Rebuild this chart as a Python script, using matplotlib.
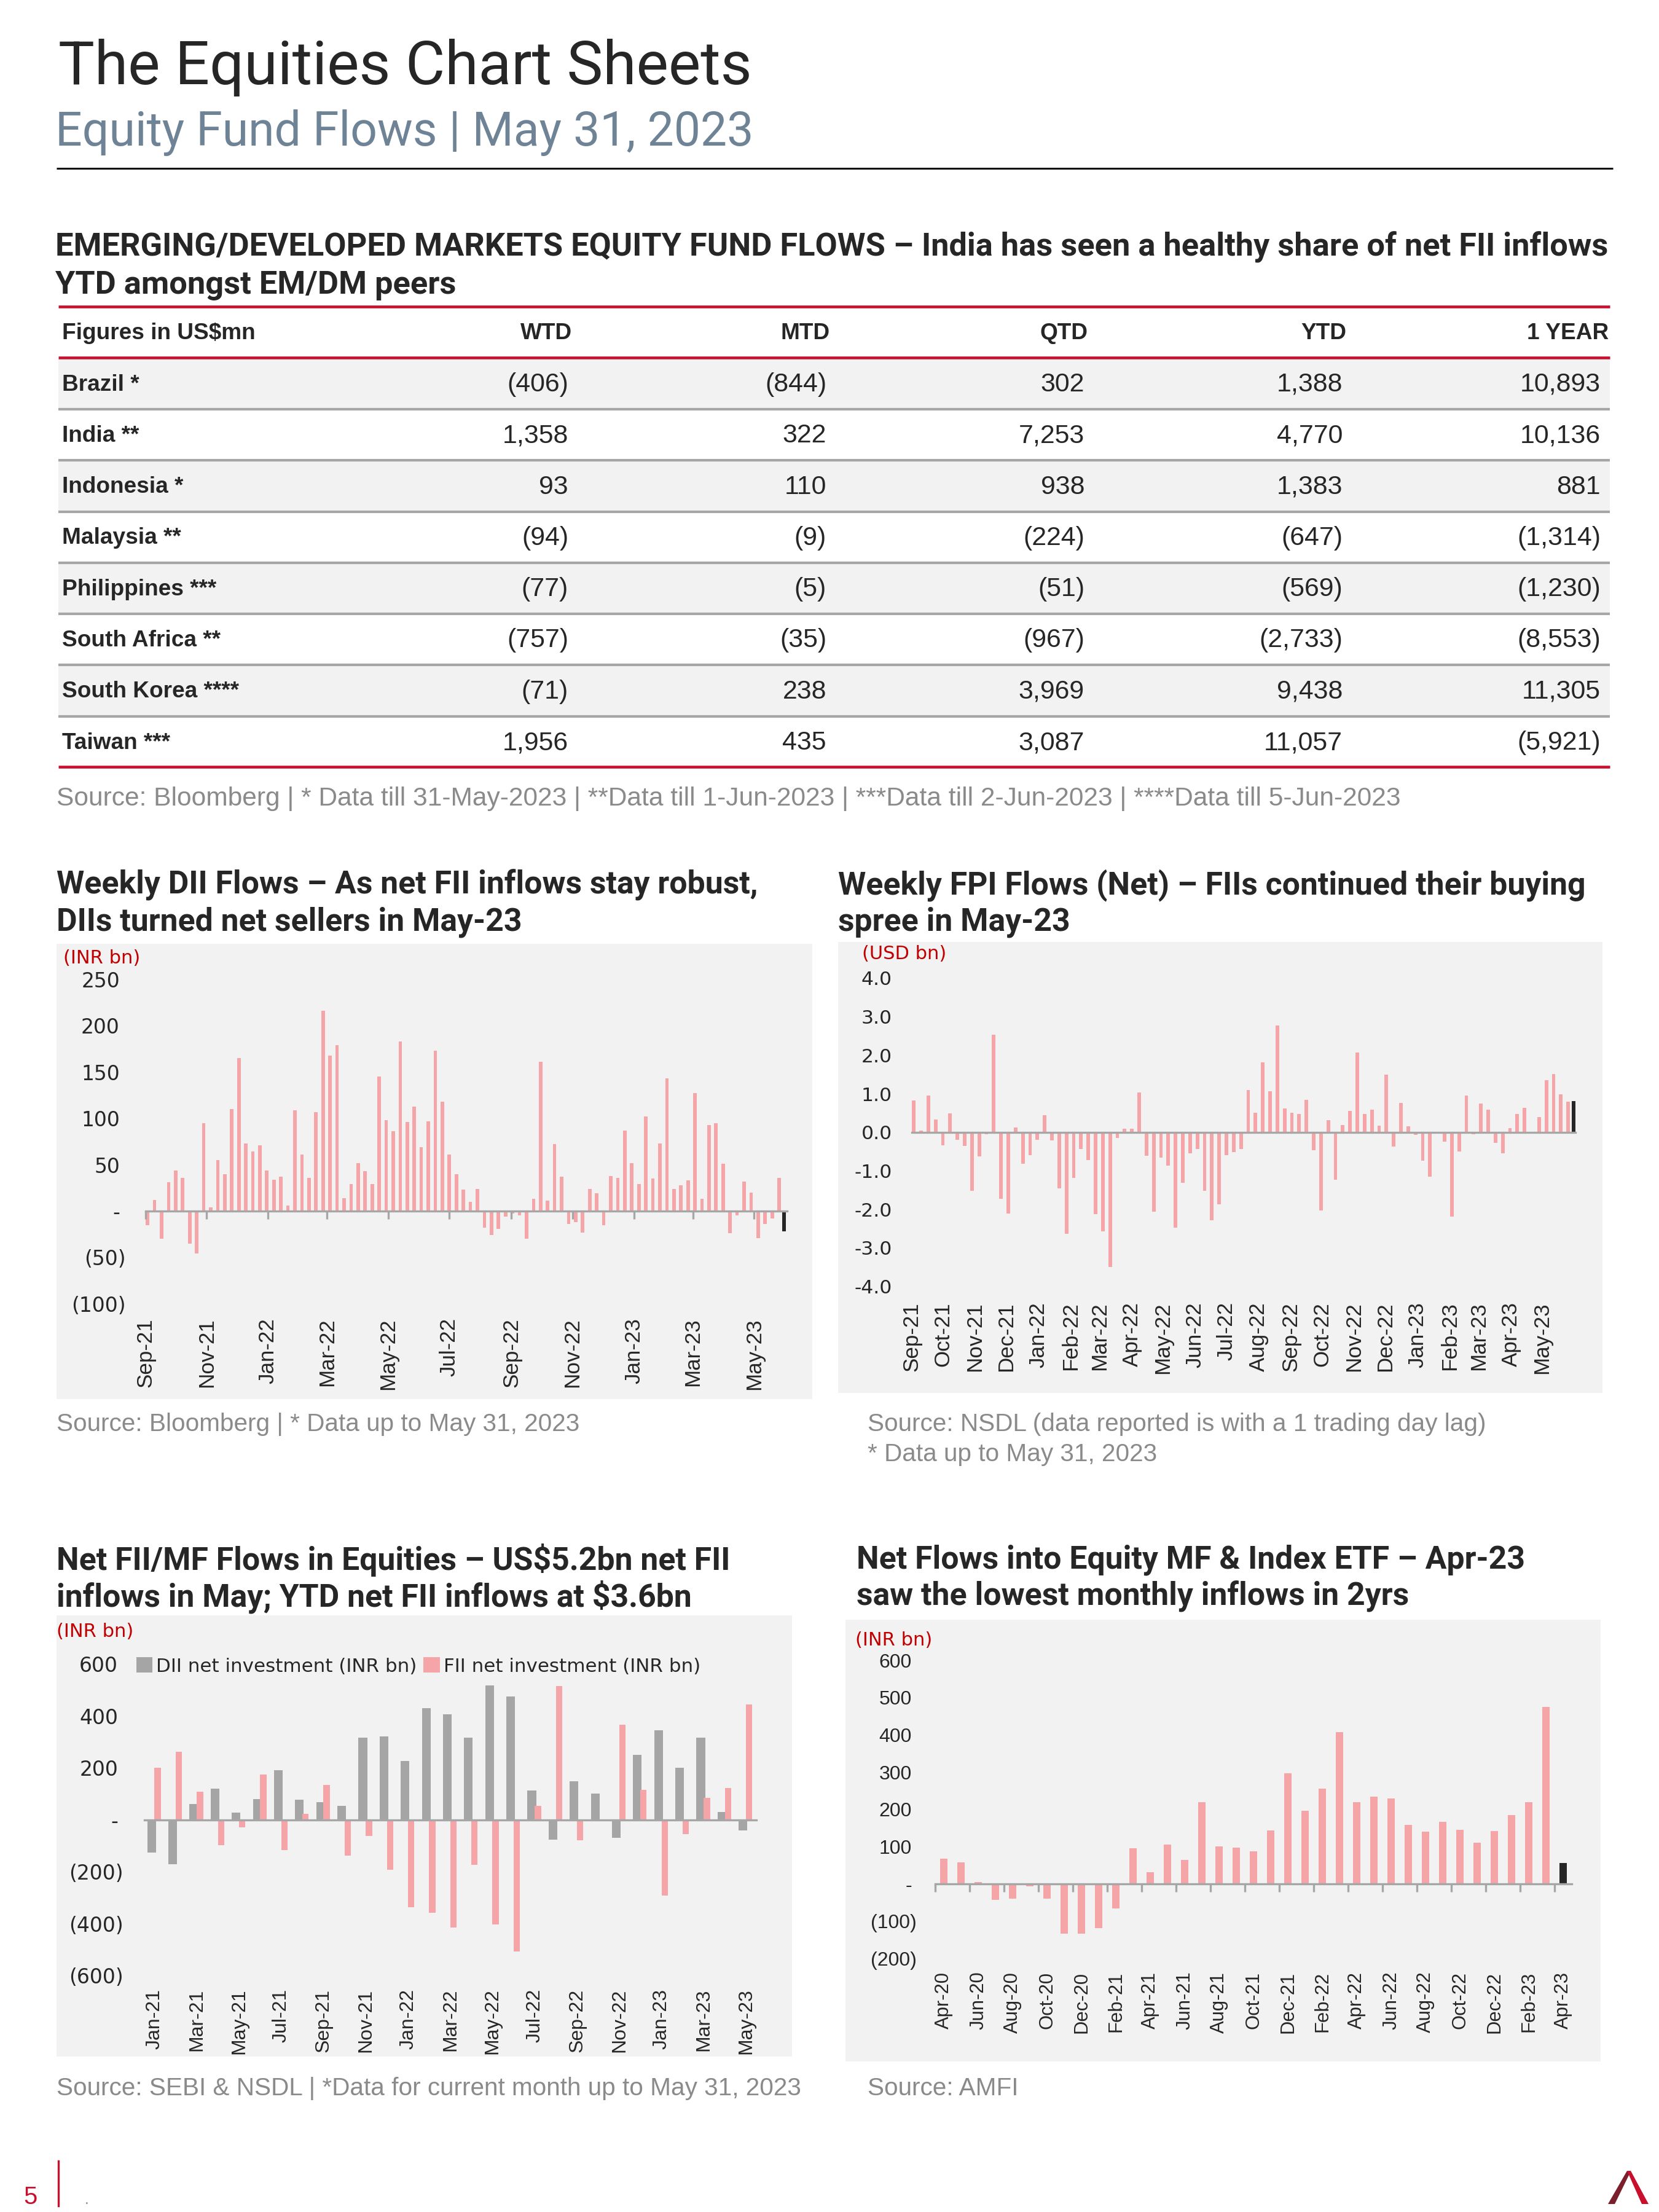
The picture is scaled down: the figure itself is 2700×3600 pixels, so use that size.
import matplotlib
matplotlib.use("Agg")
import matplotlib.pyplot as plt
import matplotlib.dates as mdates
from matplotlib.patches import Rectangle, Polygon
from matplotlib.lines import Line2D
from matplotlib.transforms import blended_transform_factory
import pandas as pd

# ---------------- data ----------------
countries = ["Brazil *", "India **", "Indonesia *", "Malaysia **", "Philippines ***",
             "South Africa **", "South Korea ****", "Taiwan ***"]
col_names = ["WTD", "MTD", "QTD", "YTD", "1 YEAR"]
wtd = [-406, 1358, 93, -94, -77, -757, -71, 1956]
mtd = [-844, 322, 110, -9, -5, -35, 238, 435]
qtd = [302, 7253, 938, -224, -51, -967, 3969, 3087]
ytd = [1388, 4770, 1383, -647, -569, -2733, 9438, 11057]
one_year = [10893, 10136, 881, -1314, -1230, -8553, 11305, -5921]

# weekly flows, Fridays from 3-Sep-21, last bar = 31-May-23 (partial week)
weeks = list(pd.date_range("2021-09-03", periods=91, freq="7D")) + [pd.Timestamp("2023-05-31")]
dii_weekly = [-15, 12, -30, 31, 44, 36, -35, -46, 95, 4, 55, 40, 110, 165, 73, 64, 71, 44, 34, 37,
              6, 109, 61, 36, 107, 216, 168, 179, 14, 29, 52, 43, 29, 145, 98, 86, 183, 96, 113, 69,
              97, 173, 118, 61, 40, 23, 10, 24, -18, -26, -19, -6, -3, -5, -30, 13, 161, 11, 72, 37,
              -14, -12, -23, 24, 19, -15, 38, 36, 87, 52, 29, 102, 35, 73, 143, 24, 28, 33, 127, 13,
              93, 95, 51, -24, -5, 32, 20, -29, -14, -8, 36, -22]
fpi_weekly = [0.83, 0.04, 0.96, 0.33, -0.34, 0.49, -0.20, -0.36, -1.52, -0.63, -0.05, 2.53, -1.73,
              -2.10, 0.13, -0.81, -0.59, -0.19, 0.45, -0.21, -1.46, -2.63, -1.19, -0.44, -0.72,
              -2.13, -2.57, -3.49, -0.14, 0.10, 0.09, 1.04, -0.61, -2.06, -0.65, -0.86, -2.47,
              -1.31, -0.54, -0.44, -1.52, -2.28, -1.87, -0.60, -0.51, -0.44, 1.09, 0.51, 1.82,
              1.06, 2.78, 0.62, 0.51, 0.48, 0.84, -0.46, -2.02, 0.32, -1.23, 0.19, 0.56, 2.07,
              0.47, 0.58, 0.18, 1.50, -0.37, 0.76, 0.15, -0.06, -0.73, -1.15, -0.03, -0.24, -2.18,
              -0.49, 0.95, -0.05, 0.74, 0.59, -0.27, -0.55, 0.11, 0.48, 0.63, -0.03, 0.39, 1.35,
              1.51, 0.98, 0.80, 0.81]

fii_months = pd.date_range("2021-01-01", periods=29, freq="MS").strftime("%b-%y")
dii_monthly = [-126, -170, 61, 119, 28, 79, 192, 77, 67, 53, 316, 321, 227, 429, 406, 317, 517,
               475, 114, -77, 149, 100, -70, 250, 344, 201, 316, 30, -41]
fii_monthly = [200, 262, 108, -98, -30, 174, -116, 24, 135, -138, -61, -193, -336, -359, -415,
               -173, -402, -506, 53, 516, -78, -5, 367, 115, -291, -55, 84, 122, 444]

mf_months = pd.date_range("2020-04-01", periods=37, freq="MS").strftime("%b-%y")
mf_flows = [68, 58, 5, -42, -40, -7, -40, -134, -134, -118, -65, 96, 32, 106, 64, 219, 101, 97,
            87, 144, 297, 196, 256, 407, 219, 235, 229, 158, 140, 166, 146, 110, 142, 185, 220,
            475, 56]

# ---------------- style ----------------
PINK = "#F5A5A8"
GREY = "#A5A5A5"
BLACK = "#262626"
DARK = "#262626"
AXGREY = "#A6A6A6"
PANEL = "#F2F2F2"
RED = "#C8102E"
SRC = "#8A8A8A"

plt.rcParams["font.family"] = ["Liberation Sans", "DejaVu Sans"]
plt.rcParams["text.parse_math"] = False

W, H = 2700, 3600
fig = plt.figure(figsize=(9, 12), dpi=300)
fig.patch.set_facecolor("white")
renderer = fig.canvas.get_renderer()


def fx(x):
    return x / W


def fy(y):
    return 1 - y / H


def pt(px):
    return px * 72 / 300


def text(x, y, s, size, **kw):
    return fig.text(fx(x), fy(y), s, fontsize=size, **kw)


def size_for(s, width, **kw):
    # font size (pt) at which the text spans the given width in pixels
    t = fig.text(0.5, 0.5, s, fontsize=20, **kw)
    w = t.get_window_extent(renderer).width
    t.remove()
    return 20 * width / w


def fit(x, y, s, width, **kw):
    size = size_for(s, width, **{k: v for k, v in kw.items() if k in ("family", "weight")})
    text(x, y, s, size, **kw)
    return size


def hline(x0, x1, y, color, lw):
    fig.add_artist(Line2D([fx(x0), fx(x1)], [fy(y), fy(y)], transform=fig.transFigure,
                          color=color, lw=lw, solid_capstyle="butt"))


def rect(x0, y0, x1, y1, color):
    fig.add_artist(Rectangle((fx(x0), fy(y1)), (x1 - x0) / W, (y1 - y0) / H,
                             transform=fig.transFigure, facecolor=color, edgecolor="none",
                             zorder=-5))


def make_ax(x0, x1, ytop, ybot):
    ax = fig.add_axes([fx(x0), fy(ybot), (x1 - x0) / W, (ybot - ytop) / H])
    ax.set_facecolor("none")
    for s in ax.spines.values():
        s.set_visible(False)
    ax.set_yticks([])
    return ax


def zero_spine(ax, ticks=None, length=0):
    sp = ax.spines["bottom"]
    sp.set_visible(True)
    sp.set_position(("data", 0))
    sp.set_color(AXGREY)
    sp.set_linewidth(0.8)
    ax.set_xticks([] if ticks is None else ticks)
    ax.tick_params(axis="x", length=length, width=0.8, color=AXGREY, labelbottom=False,
                   direction="out")


def acct(v):
    if v < 0:
        return f"({-v:,})"
    return f"{v:,}"


def acct_axis(v):
    return "-" if v == 0 else acct(v)


def ylabels(ax, ticks, labels, x_pos, x_neg, size, family):
    tr = blended_transform_factory(fig.transFigure, ax.transData)
    for v, lab in zip(ticks, labels):
        xr = x_neg if lab.startswith("(") else x_pos
        ax.text(fx(xr), v, lab, transform=tr, ha="right", va="center_baseline",
                fontsize=size, family=family, color=DARK, clip_on=False)


def xlabels(ax, xs, labels, ytop, size):
    tr = blended_transform_factory(ax.transData, fig.transFigure)
    for x, lab in zip(xs, labels):
        ax.text(x, fy(ytop), lab, transform=tr, rotation=90, ha="center", va="top",
                fontsize=size, color=DARK, clip_on=False)


# ---------------- page header ----------------
fit(95, 137, "The Equities Chart Sheets", 1128, family="Roboto", color=DARK, va="baseline")
fit(90, 237, "Equity Fund Flows | May 31, 2023", 1136, family="Roboto", color="#6F8397",
    va="baseline")
hline(92, 2625, 274, "black", 0.7)

hs = fit(90, 417, "EMERGING/DEVELOPED MARKETS EQUITY FUND FLOWS \u2013 India has seen a healthy "
         "share of net FII inflows", 2531, family="Roboto", weight="semibold", color=DARK,
         va="baseline")
text(90, 478, "YTD amongst EM/DM peers", hs, family="Roboto", weight="semibold", color=DARK,
     va="baseline")

# ---------------- table ----------------
row_y0 = 626
row_h = 83.3
val_right = [925, 1345, 1765, 2185, 2605]
head_right = [931, 1351, 1771, 2191, 2618]
for i in range(len(countries)):
    if i % 2 == 0:
        rect(95, 582.7 + row_h * i, 2620, 666 + row_h * i, PANEL)
for i in range(len(countries) - 1):
    hline(95, 2620, 666 + row_h * i, AXGREY, 1.0)
hline(95, 2620, 499, RED, 1.1)
hline(95, 2620, 582, RED, 1.1)
hline(95, 2620, 1248, RED, 1.1)

bs = fit(101, 543, "Figures in US$mn", 315, weight="bold", color=DARK, va="center")
for name, xr in zip(col_names, head_right):
    text(xr, 543, name, bs, weight="bold", color=DARK, ha="right", va="center")
vs = size_for("(2,733)", 136)
columns = [wtd, mtd, qtd, ytd, one_year]
for i, name in enumerate(countries):
    yc = row_y0 + row_h * i
    text(101, yc, name, bs, weight="bold", color=DARK, va="center")
    for col, xr in zip(columns, val_right):
        text(xr, yc, acct(col[i]), vs, color=DARK, ha="right", va="center")

fit(92, 1300, "Source: Bloomberg | * Data till 31-May-2023 | **Data till 1-Jun-2023 | "
    "***Data till 2-Jun-2023 | ****Data till 5-Jun-2023", 2192, color=SRC, va="center")

# ---------------- chart titles / sources ----------------
ts = fit(92, 1455, "Weekly DII Flows \u2013 As net FII inflows stay robust,", 1143,
         family="Roboto", weight="semibold", color=DARK, va="baseline")
text(92, 1515, "DIIs turned net sellers in May-23", ts, family="Roboto", weight="semibold",
     color=DARK, va="baseline")
text(1364, 1455, "Weekly FPI Flows (Net) \u2013 FIIs continued their buying", ts,
     family="Roboto", weight="semibold", color=DARK, va="baseline")
text(1364, 1515, "spree in May-23", ts, family="Roboto", weight="semibold", color=DARK,
     va="baseline")
text(92, 2555, "Net FII/MF Flows in Equities \u2013 US$5.2bn net FII", ts, family="Roboto",
     weight="semibold", color=DARK, va="baseline")
text(92, 2615, "inflows in May; YTD net FII inflows at $3.6bn", ts, family="Roboto",
     weight="semibold", color=DARK, va="baseline")
text(1394, 2553, "Net Flows into Equity MF & Index ETF \u2013 Apr-23", ts, family="Roboto",
     weight="semibold", color=DARK, va="baseline")
text(1394, 2613, "saw the lowest monthly inflows in 2yrs", ts, family="Roboto",
     weight="semibold", color=DARK, va="baseline")

ss = fit(92, 2318, "Source: Bloomberg | * Data up to May 31, 2023", 853, color=SRC, va="center")
text(1412, 2318, "Source: NSDL (data reported is with a 1 trading day lag)", ss, color=SRC,
     va="center")
text(1412, 2367, "* Data up to May 31, 2023", ss, color=SRC, va="center")
text(92, 3399, "Source: SEBI & NSDL | *Data for current month up to May 31, 2023", ss,
     color=SRC, va="center")
text(1412, 3399, "Source: AMFI", ss, color=SRC, va="center")

# panels
rect(92, 1536, 1322, 2277, PANEL)
rect(1364, 1533, 2608, 2267, PANEL)
rect(92, 2629, 1289, 3347, PANEL)
rect(1376, 2636, 2605, 3355, PANEL)

unit_size = pt(30.5)
text(103, 1559, "(INR bn)", unit_size, family="DejaVu Sans", color="#C00000", va="center")
text(1403, 1553, "(USD bn)", unit_size, family="DejaVu Sans", color="#C00000", va="center")
text(92, 2655, "(INR bn)", unit_size, family="DejaVu Sans", color="#C00000", va="center")
text(1392, 2669, "(INR bn)", unit_size, family="DejaVu Sans", color="#C00000", va="center")

# ---------------- weekly DII ----------------
wx = mdates.date2num(weeks)
week_colors = [PINK] * (len(weeks) - 1) + [BLACK]
ax = make_ax(236.9, 1281.2, 1594, 2121.7)
ax.bar(wx, dii_weekly, width=3.5, color=week_colors)
ax.set_xlim(wx[0] - 2, wx[-1] + 3)
ax.set_ylim(-100, 250)
dii_ticks = pd.date_range("2021-09-01", "2023-05-01", freq="2MS")
zero_spine(ax, mdates.date2num(dii_ticks), length=3)
yt = [250, 200, 150, 100, 50, 0, -50, -100]
ylabels(ax, yt, [acct_axis(v) for v in yt], 195, 205, pt(33), "DejaVu Sans")
xlabels(ax, mdates.date2num(dii_ticks), dii_ticks.strftime("%b-%y"), 2145, pt(35))

# ---------------- weekly FPI ----------------
ax = make_ax(1483.8, 2564.0, 1592, 2093.7)
ax.bar(wx, fpi_weekly, width=3.5, color=week_colors)
ax.set_xlim(wx[0] - 2, wx[-1] + 2)
ax.set_ylim(-4, 4)
zero_spine(ax)
yt = [4, 3, 2, 1, 0, -1, -2, -3, -4]
ylabels(ax, yt, [f"{v:.1f}" for v in yt], 1452, 1452, pt(31.5), "DejaVu Sans")
fpi_ticks = pd.date_range("2021-09-01", "2023-05-01", freq="MS")
xlabels(ax, mdates.date2num(fpi_ticks), fpi_ticks.strftime("%b-%y"), 2119, pt(35))

# ---------------- monthly FII / DII ----------------
ax = make_ax(234.5, 1231.4, 2708.2, 3215.3)
idx = list(range(len(fii_months)))
h1 = ax.bar([i - 0.144 for i in idx], dii_monthly, width=0.41, color=GREY)
h2 = ax.bar([i + 0.144 for i in idx], fii_monthly, width=0.30, color=PINK)
ax.set_xlim(-0.5, len(idx) - 0.5)
ax.set_ylim(-600, 600)
zero_spine(ax)
yt = [600, 400, 200, 0, -200, -400, -600]
ylabels(ax, yt, [acct_axis(v) for v in yt], 192, 201, pt(33), "DejaVu Sans")
xlabels(ax, idx[::2], list(fii_months[::2]), 3236.6, pt(32))
ax.legend([h1, h2], ["DII net investment (INR bn)", "FII net investment (INR bn)"],
          loc="center left", bbox_to_anchor=(fx(222), fy(2712)), bbox_transform=fig.transFigure,
          ncol=2, frameon=False, borderpad=0, borderaxespad=0, handlelength=0.84,
          handleheight=0.84, handletextpad=0.2, columnspacing=0.35,
          prop={"family": "DejaVu Sans", "size": pt(31)}, labelcolor=DARK)

# ---------------- monthly MF flows ----------------
ax = make_ax(1522.3, 2558.1, 2702.3, 3187.4)
idx = list(range(len(mf_months)))
ax.bar(idx, mf_flows, width=0.44, color=[PINK] * (len(idx) - 1) + [BLACK])
ax.set_xlim(-0.5, len(idx) - 0.5)
ax.set_ylim(-200, 600)
zero_spine(ax, [i - 0.5 for i in idx[::2]], length=3)
yt = [600, 500, 400, 300, 200, 100, 0, -100, -200]
ylabels(ax, yt, [acct_axis(v) for v in yt], 1484, 1492, pt(32), "Liberation Sans")
xlabels(ax, idx[::2], list(mf_months[::2]), 3208.7, pt(31))

# ---------------- footer ----------------
text(49, 3587, "5", pt(40), color=RED, ha="center", va="baseline")
fig.add_artist(Line2D([fx(95), fx(95)], [fy(3517), fy(3590)], transform=fig.transFigure,
                      color=RED, lw=0.8))
text(138, 3587, ".", pt(24), color=SRC, va="baseline")
left_leg = [(2617, 3587), (2628, 3587), (2652, 3538), (2648, 3533)]
right_leg = [(2648, 3533), (2654, 3533), (2683, 3587), (2672, 3587)]
for pts, c in [(left_leg, "#7A1F2B"), (right_leg, RED)]:
    fig.add_artist(Polygon([(fx(a), fy(b)) for a, b in pts], closed=True,
                           transform=fig.transFigure, facecolor=c, edgecolor="none"))

fig.savefig("out.png", dpi=300)
